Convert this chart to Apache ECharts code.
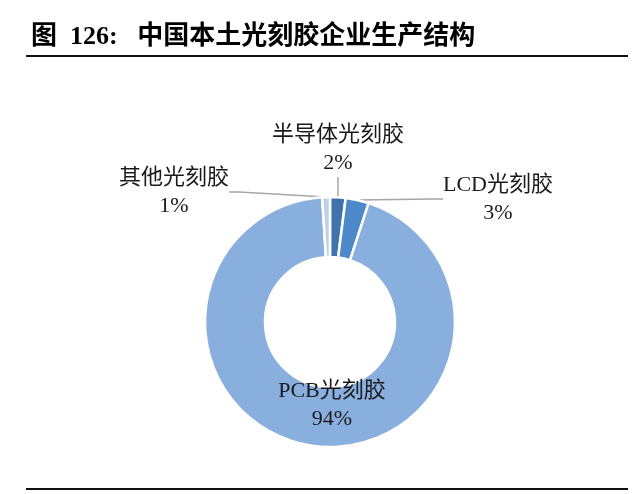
<!DOCTYPE html>
<html>
<head>
<meta charset="utf-8">
<script src="https://cdn.jsdelivr.net/npm/echarts@6/dist/echarts.min.js"></script>
<style>
  html, body { margin: 0; padding: 0; background: #fff; }
  #main { width: 640px; height: 494px; }
</style>
</head>
<body>
<div id="main"></div>
<script>
// 数据
const categories = ['半导体光刻胶', 'LCD光刻胶', 'PCB光刻胶', '其他光刻胶'];
const shares = [2, 3, 94, 1];
const sliceColors = ['#3f73ad', '#4d88c8', '#88afdd', '#bcd0e9'];

// 标签摆放位置（文字中心）
const labelSpots = [
  { x: 338, y: 149 },
  { x: 498, y: 199 },
  { x: 332, y: 405 },
  { x: 174, y: 192 }
];

const font = "'Liberation Serif', 'Noto Sans CJK SC', serif";

const chart = echarts.init(document.getElementById('main'), null, { renderer: 'canvas' });

const option = {
  animation: false,
  backgroundColor: '#fff',
  title: {
    text: '图  126:   中国本土光刻胶企业生产结构',
    left: 26,
    top: 19,
    textStyle: {
      fontFamily: font,
      fontSize: 26,
      fontWeight: 'bold',
      color: '#000'
    }
  },
  graphic: [
    { type: 'line', shape: { x1: 26, y1: 56, x2: 628, y2: 56 }, style: { stroke: '#111', lineWidth: 2 } },
    { type: 'line', shape: { x1: 26, y1: 489, x2: 628, y2: 489 }, style: { stroke: '#111', lineWidth: 2 } }
  ],
  series: [{
    type: 'pie',
    center: [330, 322],
    radius: [65, 125],
    startAngle: 90,
    clockwise: true,
    avoidLabelOverlap: false,
    itemStyle: { borderColor: '#fff', borderWidth: 2.5 },
    label: {
      show: true,
      formatter: '{b}\n{c}%',
      fontFamily: font,
      fontSize: 22,
      lineHeight: 28,
      color: '#1a1a1a'
    },
    labelLine: {
      show: true,
      length: 12,
      length2: 10,
      lineStyle: { color: '#a6a6a6', width: 1.5 }
    },
    labelLayout: function (params) {
      const spot = labelSpots[params.dataIndex];
      return { x: spot.x, y: spot.y, align: 'center', verticalAlign: 'middle' };
    },
    emphasis: { disabled: true },
    data: categories.map(function (name, i) {
      const item = { name: name, value: shares[i], itemStyle: { color: sliceColors[i] } };
      if (name === 'PCB光刻胶') item.labelLine = { show: false };
      return item;
    })
  }]
};

chart.setOption(option);
</script>
</body>
</html>
